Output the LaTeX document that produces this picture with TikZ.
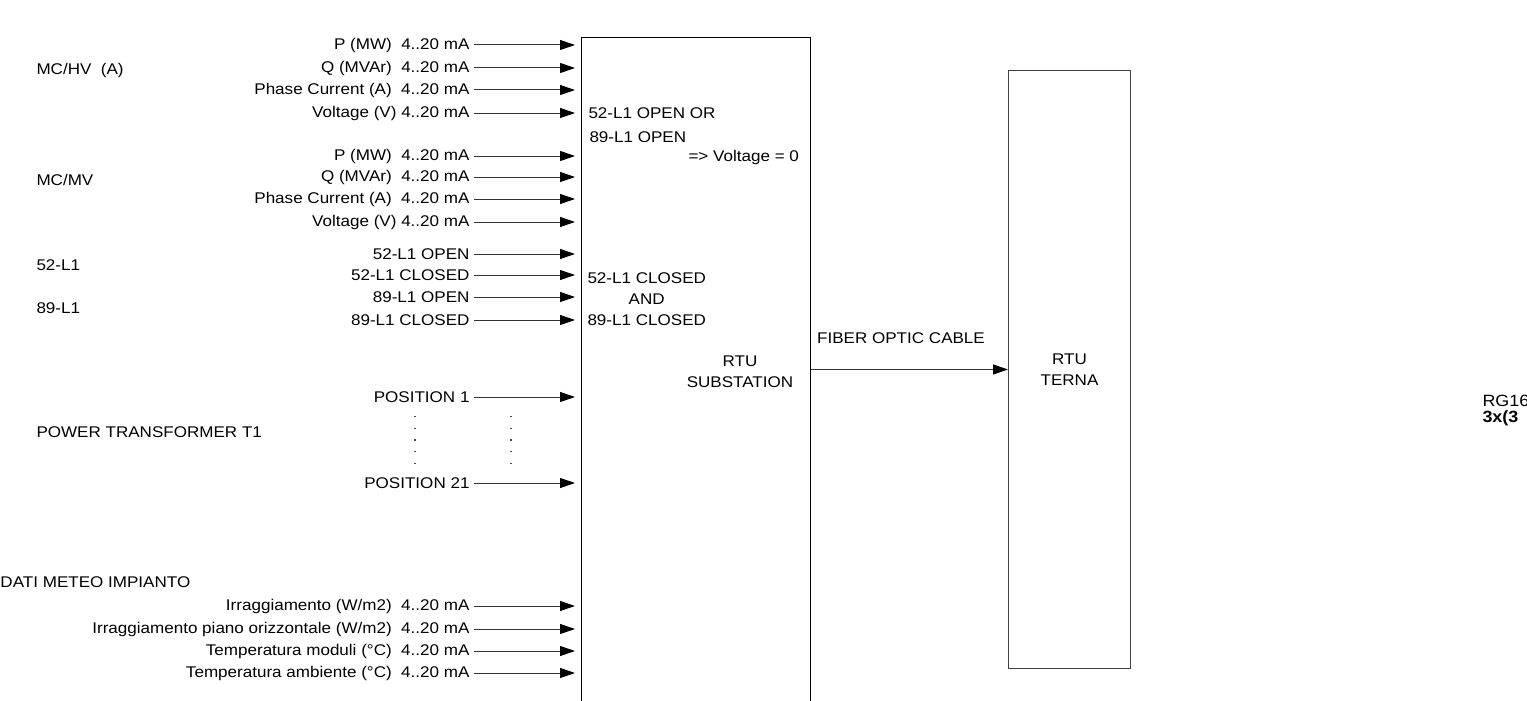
\documentclass[tikz,border=0pt]{standalone}
\usepackage{fontspec}
\setmainfont{Liberation Sans}[FakeStretch=1.1]
\usetikzlibrary{arrows.meta,positioning}

\begin{document}
\begin{tikzpicture}[
        x=1pt, y=-1pt,
        line width=1pt,
        font=\fontsize{15.5}{21}\selectfont,
        sig/.style={anchor=east, inner sep=4pt},
        grp/.style={anchor=west, inner sep=0pt},
        note/.style={anchor=west, inner sep=0pt},
        box/.style={draw, inner sep=0pt, align=center},
        arrow/.style={-{Triangle[length=15pt,width=10pt,color=black]}, draw=black!80},
        inarrow/.style={arrow, shorten >=6pt},
        dots/.style={draw=black!70, line width=1.3pt, dash pattern=on 1.3pt off 10.4pt}
        ]
    \useasboundingbox (0,0) rectangle (1527,701);

    % RTU boxes
    \node[box, minimum width=229pt, minimum height=690pt, anchor=north west] (rtu) at (581,37) {};
    \node[box, draw=black!75, minimum width=122pt, minimum height=598pt, anchor=north west] (terna) at (1008,70) {RTU\\TERNA};
    \node[align=center] (rtulbl) at (740,372) {RTU\\SUBSTATION};

    % group labels
    \node[grp] (hv) at (36,70) {MC/HV~~(A)};
    \node[grp] (mv) at (36,180) {MC/MV};
    \node[grp] (cb52) at (36,265) {52-L1};
    \node[grp] (cb89) at (36,308) {89-L1};
    \node[grp] (t1) at (36,432) {POWER TRANSFORMER T1};
    \node[grp] (meteo) at (0,582) {DATI METEO IMPIANTO};

    % MC/HV signals
    \node[sig] (hvp) at (474,45) {P (MW)~~4..20 mA};
    \node[sig] (hvq) at (474,68) {Q (MVAr)~~4..20 mA};
    \node[sig] (hvi) at (474,90) {Phase Current (A)~~4..20 mA};
    \node[sig] (hvv) at (474,113) {Voltage (V) 4..20 mA};

    % MC/MV signals
    \node[sig] (mvp) at (474,156) {P (MW)~~4..20 mA};
    \node[sig] (mvq) at (474,177) {Q (MVAr)~~4..20 mA};
    \node[sig] (mvi) at (474,199) {Phase Current (A)~~4..20 mA};
    \node[sig] (mvv) at (474,222) {Voltage (V) 4..20 mA};

    % breaker / disconnector states
    \node[sig] (op52) at (474,254) {52-L1 OPEN};
    \node[sig] (cl52) at (474,275) {52-L1 CLOSED};
    \node[sig] (op89) at (474,297) {89-L1 OPEN};
    \node[sig] (cl89) at (474,320) {89-L1 CLOSED};

    % tap positions
    \node[sig] (pos1) at (474,397) {POSITION 1};
    \node[sig] (pos21) at (474,483) {POSITION 21};

    % weather data
    \node[sig] (irr) at (474,606) {Irraggiamento (W/m2)~~4..20 mA};
    \node[sig] (irrh) at (474,629) {Irraggiamento piano orizzontale (W/m2)~~4..20 mA};
    \node[sig] (tmod) at (474,651) {Temperatura moduli (°C)~~4..20 mA};
    \node[sig] (tamb) at (474,673) {Temperatura ambiente (°C)~~4..20 mA};

    % logic notes inside RTU
    \node[note] (openor) at (588,113) {52-L1 OPEN OR};
    \node[note] (open89) at (589,137) {89-L1 OPEN};
    \node[note] (volt0) at (688,157) {=> Voltage = 0};
    \node[note, align=center] (closedand) at (587,299) {52-L1 CLOSED\\AND\\89-L1 CLOSED};

    \draw[inarrow] (hvp) -- (hvp -| rtu.west);
    \draw[inarrow] (hvq) -- (hvq -| rtu.west);
    \draw[inarrow] (hvi) -- (hvi -| rtu.west);
    \draw[inarrow] (hvv) -- (hvv -| rtu.west);
    \draw[inarrow] (mvp) -- (mvp -| rtu.west);
    \draw[inarrow] (mvq) -- (mvq -| rtu.west);
    \draw[inarrow] (mvi) -- (mvi -| rtu.west);
    \draw[inarrow] (mvv) -- (mvv -| rtu.west);
    \draw[inarrow] (op52) -- (op52 -| rtu.west);
    \draw[inarrow] (cl52) -- (cl52 -| rtu.west);
    \draw[inarrow] (op89) -- (op89 -| rtu.west);
    \draw[inarrow] (cl89) -- (cl89 -| rtu.west);
    \draw[inarrow] (pos1) -- (pos1 -| rtu.west);
    \draw[inarrow] (pos21) -- (pos21 -| rtu.west);
    \draw[inarrow] (irr) -- (irr -| rtu.west);
    \draw[inarrow] (irrh) -- (irrh -| rtu.west);
    \draw[inarrow] (tmod) -- (tmod -| rtu.west);
    \draw[inarrow] (tamb) -- (tamb -| rtu.west);

    % dotted continuation between positions
    \draw[dots] (415,416) -- (415,464);
    \draw[dots] (511,416) -- (511,464);

    % link to Terna
    \draw[arrow] (terna.west -| rtu.east) -- (terna.west);
    \node (fiber) at (901,338) {FIBER OPTIC CABLE};

    % cable note at the edge
    \node[grp, font=\fontsize{16.3}{16}\selectfont] (rgcable) at (1482,401) {RG16};
    \node[grp, font=\fontsize{16.3}{16}\selectfont\bfseries] (rgcore) at (1482,418) {3x(3};
\end{tikzpicture}
\end{document}
